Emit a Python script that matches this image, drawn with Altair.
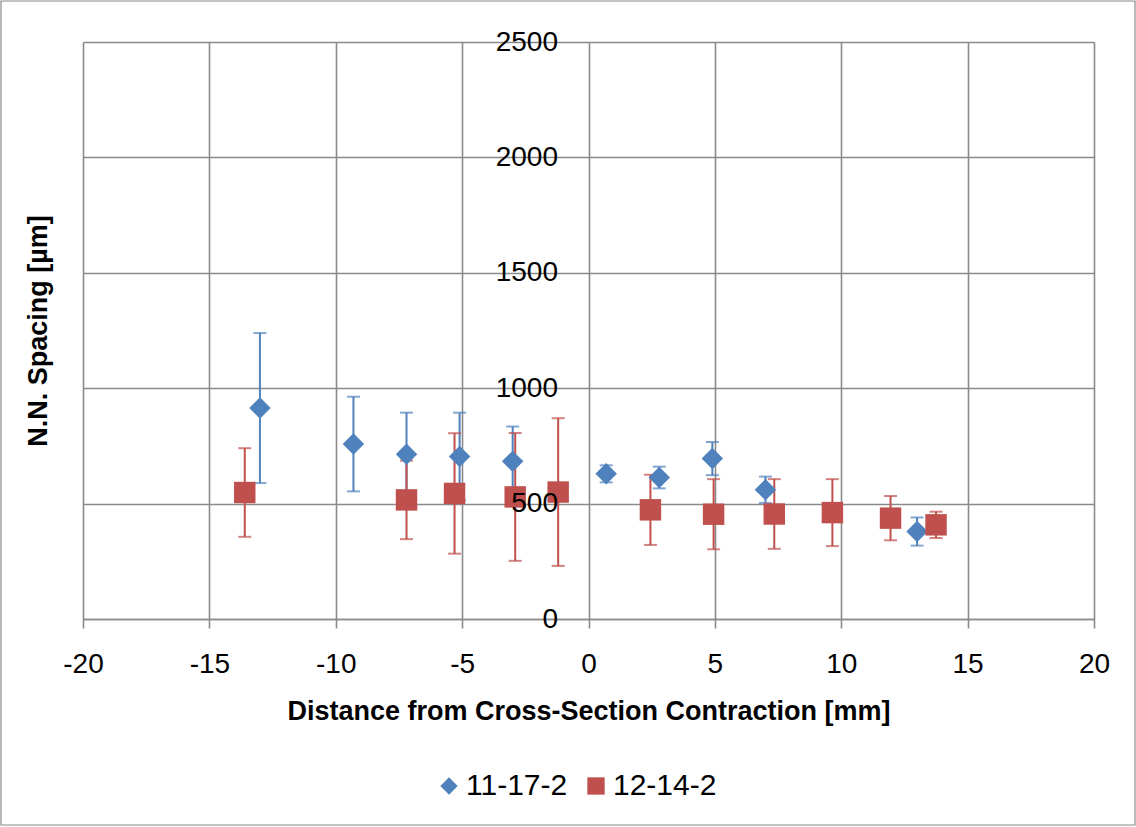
import altair as alt
import pandas as pd

# ---- data ----
series_names = ["11-17-2", "12-14-2"]

blue_x = [-13.0, -9.3, -7.2, -5.1, -3.0, 0.7, 2.8, 4.9, 7.0, 13.0]
blue_y = [914, 758, 714, 704, 683, 629, 613, 695, 560, 379]
blue_err = [325, 205, 180, 190, 151, 37, 47, 72, 57, 61]

red_x = [-13.6, -7.2, -5.3, -2.9, -1.2, 2.45, 4.95, 7.35, 9.65, 11.95, 13.75]
red_y = [548, 516, 544, 529, 550, 473, 454, 455, 461, 437, 408]
red_err = [192, 170, 261, 277, 320, 152, 152, 151, 145, 96, 57]

x_ticks = [-20, -15, -10, -5, 0, 5, 10, 15, 20]
y_ticks = [0, 500, 1000, 1500, 2000, 2500]

colors = ["#4F81BD", "#C0504D"]
shapes = ["diamond", "square"]

FONT = "Liberation Sans, Arial"
GRID = "#8a8a8a"

rows = []
for xs, ys, es, name in [(blue_x, blue_y, blue_err, series_names[0]),
                         (red_x, red_y, red_err, series_names[1])]:
    for a, b, c in zip(xs, ys, es):
        rows.append({"series": name, "x": a, "y": b, "err": c})
df = pd.DataFrame(rows)

W, H = 1011, 577

xscale = alt.Scale(domain=[-20, 20], nice=False, zero=False)
yscale = alt.Scale(domain=[0, 2500], nice=False)
cscale = alt.Scale(domain=series_names, range=colors)
sscale = alt.Scale(domain=series_names, range=shapes)

legend = alt.Legend(
    title=None, orient="none", direction="horizontal",
    legendX=351, legendY=729,
    labelFont=FONT, labelFontSize=30, labelColor="black",
    symbolSize=300, symbolStrokeWidth=0, columnPadding=13, labelOffset=2,
    symbolOpacity=1)

color_enc = alt.Color("series:N", scale=cscale, legend=legend)

x_enc = alt.X("x:Q", scale=xscale, axis=alt.Axis(
    values=x_ticks, title="Distance from Cross-Section Contraction [mm]",
    labelExpr="'' + datum.value",
    grid=True, gridColor=GRID, gridWidth=1.6,
    domain=True, domainColor=GRID, domainWidth=1.6,
    ticks=True, tickColor=GRID, tickWidth=1.6, tickSize=9,
    labelFont=FONT, labelFontSize=28, labelColor="black", labelPadding=22,
    labelFlush=False,
    titleFont=FONT, titleFontSize=27, titleFontWeight="bold", titleColor="black",
    titleY=92, titleBaseline="middle"))

# y axis that draws only the horizontal gridlines (behind the marks)
y_grid = alt.Y("lo:Q", scale=yscale, axis=alt.Axis(
    values=y_ticks, title=None, labels=False, ticks=False, domain=False,
    grid=True, gridColor=GRID, gridWidth=1.6, zindex=0))

# y axis that draws the labels at x = 0, on top of the marks
y_lab = alt.Y("y:Q", scale=yscale, axis=alt.Axis(
    values=y_ticks, title="N.N. Spacing [µm]", orient="left",
    labelExpr="'' + datum.value",
    grid=False, domain=False, ticks=False, offset=-W / 2, zindex=1,
    labelFont=FONT, labelFontSize=28, labelColor="black", labelPadding=31,
    labelFlush=False,
    titleFont=FONT, titleFontSize=27, titleFontWeight="bold", titleColor="black",
    titleX=-(W / 2) - 45, titleY=H / 2, titleAngle=-90, titleBaseline="middle",
    titleAlign="center"))

base = alt.Chart(df).transform_calculate(
    lo="datum.y - datum.err", hi="datum.y + datum.err")

bars = base.mark_rule(strokeWidth=2).encode(
    x=x_enc, y=y_grid, y2="hi:Q",
    color=color_enc)

cap_lo = base.mark_tick(orient="horizontal", size=13, thickness=2).encode(
    x="x:Q", y=alt.Y("lo:Q", scale=yscale, axis=None), color=color_enc)

cap_hi = base.mark_tick(orient="horizontal", size=13, thickness=2).encode(
    x="x:Q", y=alt.Y("hi:Q", scale=yscale, axis=None), color=color_enc)

points = base.mark_point(filled=True, opacity=1, size=460).encode(
    x="x:Q", y=y_lab, color=color_enc,
    shape=alt.Shape("series:N", scale=sscale, legend=legend))

border = alt.Chart(pd.DataFrame({"k": [0]})).mark_rect(
    fill=None, stroke="#8a8a8a", strokeWidth=1.2, clip=False).encode(
    x=alt.value(-82), x2=alt.value(W + 41),
    y=alt.value(-41), y2=alt.value(H + 206))

chart = alt.layer(border, bars, cap_lo, cap_hi, points).resolve_axis(
    y="independent"
).resolve_scale(y="shared").properties(
    width=W, height=H,
    autosize=alt.AutoSizeParams(type="none"),
    padding={"left": 83, "top": 42, "right": 42, "bottom": 208},
).configure_view(stroke=None).configure(background="white")

chart.save("out.html", embed_options={"renderer": "svg", "actions": False})
